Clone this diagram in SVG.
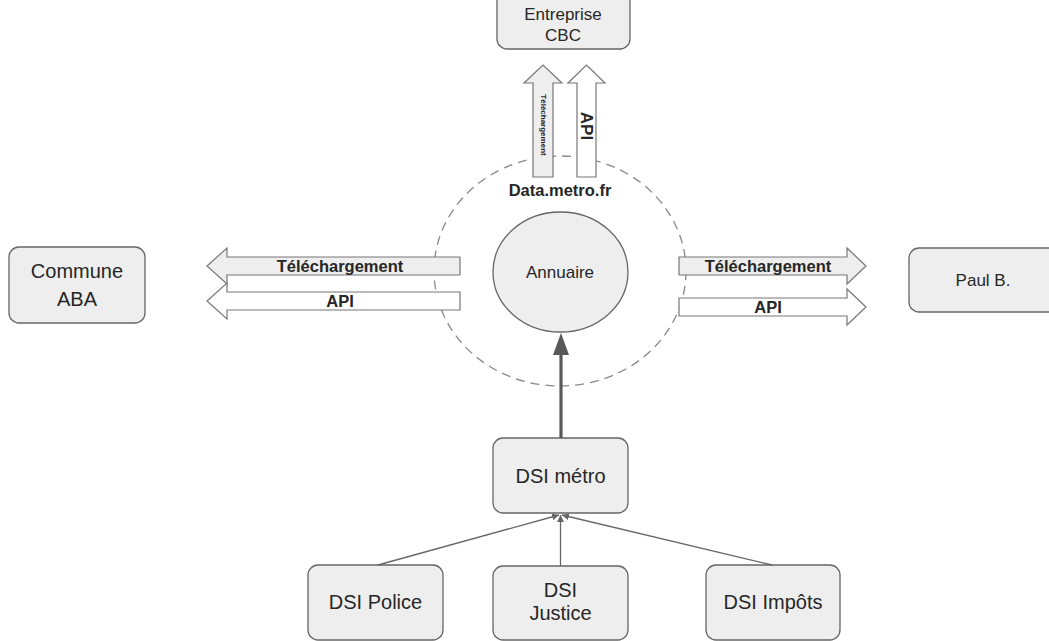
<svg xmlns="http://www.w3.org/2000/svg" width="1049" height="641" viewBox="0 0 1049 641">
<defs>
<style>
.node{fill:#eeeeee;stroke:#666666;stroke-width:1.3}
.t{font-family:"Liberation Sans",Arial,sans-serif;fill:#262626;text-anchor:middle}
.n20{font-size:20px}
.n17{font-size:17px}
.b{font-weight:bold;font-size:16.5px}
.fa{stroke:#777777;stroke-width:1.2;stroke-linejoin:miter}
.g{fill:#eeeeee}
.w{fill:#ffffff}
.thin{stroke:#666666;stroke-width:1.3;fill:none}
</style>
<marker id="ah" viewBox="0 0 10 10" refX="10" refY="5" markerWidth="7" markerHeight="7" markerUnits="userSpaceOnUse" orient="auto">
<path d="M0,0 L10,5 L0,10 z" fill="#666666"/>
</marker>
</defs>
<rect width="1049" height="641" fill="#ffffff"/>

<g id="data-metro">
<ellipse cx="560" cy="271" rx="126" ry="115" fill="none" stroke="#888888" stroke-width="1.3" stroke-dasharray="9,6"/>
<text class="t b" x="560" y="196" font-size="17">Data.metro.fr</text>
</g>

<g id="annuaire">
<ellipse cx="560.5" cy="272" rx="67.5" ry="60" class="node"/>
<text class="t n17" x="560" y="278">Annuaire</text>
</g>

<g id="entreprise-cbc">
<rect x="497" y="-27" width="133" height="76" rx="10" class="node"/>
<text class="t n17" x="563" y="20">Entreprise</text>
<text class="t n17" x="563" y="41">CBC</text>
</g>

<g id="commune-aba">
<rect x="9" y="247" width="136" height="76" rx="10" class="node"/>
<text class="t n20" x="77" y="278">Commune</text>
<text class="t n20" x="77" y="306">ABA</text>
</g>

<g id="paul-b">
<rect x="909" y="248" width="150" height="64" rx="10" class="node"/>
<text class="t n17" x="983" y="286">Paul B.</text>
</g>

<g id="dsi-metro">
<rect x="493" y="438" width="135" height="75" rx="10" class="node"/>
<text class="t n20" x="560.5" y="483">DSI métro</text>
</g>

<g id="dsi-police">
<rect x="308" y="565" width="135" height="75" rx="10" class="node"/>
<text class="t n20" x="375.5" y="609">DSI Police</text>
</g>

<g id="dsi-justice">
<rect x="493" y="566" width="135" height="74" rx="10" class="node"/>
<text class="t n20" x="560.5" y="597">DSI</text>
<text class="t n20" x="560.5" y="620">Justice</text>
</g>

<g id="dsi-impots">
<rect x="706" y="565" width="134" height="75" rx="10" class="node"/>
<text class="t n20" x="773" y="609">DSI Impôts</text>
</g>

<g id="connectors">
<!-- up arrows to Entreprise CBC -->
<path class="fa g" d="M533,177 L533,83 L524,83 L543,65 L562,83 L553,83 L553,177 Z"/>
<text class="t" font-size="8" font-weight="bold" transform="translate(543,125) rotate(90)" dominant-baseline="central">Téléchargement</text>
<path class="fa w" d="M577,177 L577,83 L568,83 L586.5,65 L605,83 L596,83 L596,177 Z"/>
<text class="t" font-size="17" font-weight="bold" transform="translate(586.5,126) rotate(90)" dominant-baseline="central">API</text>

<!-- left arrows to Commune ABA -->
<path class="fa g" d="M460,257 L227,257 L227,248 L207,266 L227,284 L227,275 L460,275 Z"/>
<text class="t b" x="340" y="272">Téléchargement</text>
<path class="fa w" d="M460,292 L227,292 L227,283 L207,301 L227,319 L227,310 L460,310 Z"/>
<text class="t b" x="340" y="307">API</text>

<!-- right arrows to Paul B. -->
<path class="fa g" d="M679,257 L847,257 L847,248 L866,266 L847,284 L847,275 L679,275 Z"/>
<text class="t b" x="768" y="272">Téléchargement</text>
<path class="fa w" d="M679,298 L847,298 L847,289 L866,307 L847,325 L847,316 L679,316 Z"/>
<text class="t b" x="768" y="313">API</text>

<!-- DSI métro to Annuaire -->
<line x1="561" y1="438" x2="561" y2="352" stroke="#595959" stroke-width="3.2"/>
<path d="M561,333 L553,355 L569,355 Z" fill="#595959"/>

<!-- DSIs to DSI métro -->
<line class="thin" x1="378" y1="565" x2="559" y2="515" marker-end="url(#ah)"/>
<line class="thin" x1="560.5" y1="566" x2="560.5" y2="515" marker-end="url(#ah)"/>
<line class="thin" x1="772" y1="565" x2="562" y2="515" marker-end="url(#ah)"/>
</g>
</svg>
